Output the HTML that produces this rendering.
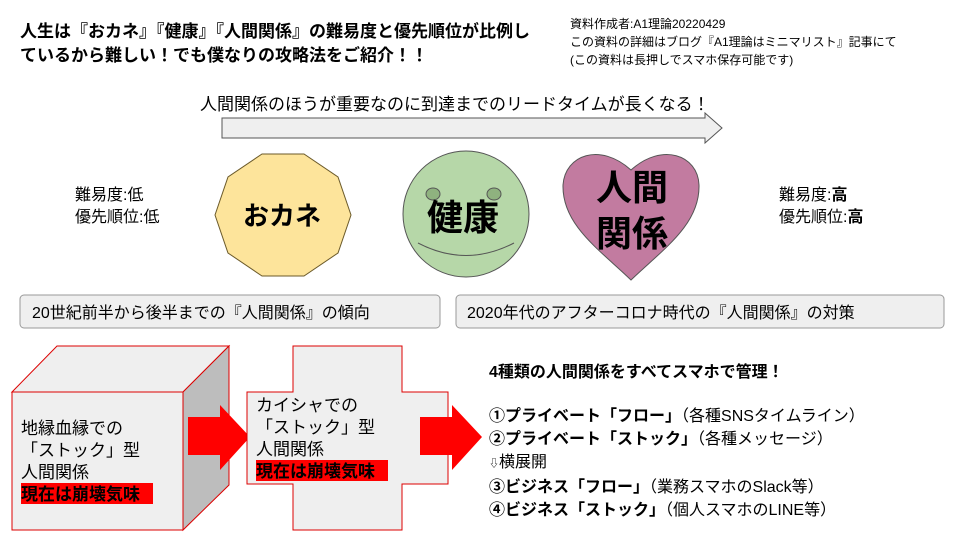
<!DOCTYPE html>
<html><head><meta charset="utf-8"><style>
html,body{margin:0;padding:0;background:#fff}
body{width:960px;height:540px;overflow:hidden;position:relative;font-family:"Liberation Sans","Noto Sans CJK JP",sans-serif;color:#000}
.t{position:absolute;white-space:nowrap}
</style></head><body>
<svg width="960" height="540" style="position:absolute;left:0;top:0">
<polygon points="222,118 705,118 705,113 722,128 705,143 705,138 222,138" fill="#efefef" stroke="#555" stroke-width="1"/>
<polygon points="262,154 304,154 338,177 351,215 338,253 304,276 262,276 228,253 215,215 228,177" fill="#fde49b" stroke="#6b5a2a" stroke-width="1"/>
<circle cx="466" cy="214" r="63" fill="#b6d7a8" stroke="#555"/>
<ellipse cx="433" cy="194" rx="7" ry="6" fill="#8fb27f" stroke="#555"/>
<ellipse cx="494" cy="194" rx="7" ry="6" fill="#8fb27f" stroke="#555"/>
<path d="M418 243 Q466 268 514 243" fill="none" stroke="#555"/>
<path d="M631 280 C600 250 562 225 563 185 C565 155 600 142 631 170 C662 142 698 155 699 185 C700 225 662 250 631 280 Z" fill="#c27ba0" stroke="#555"/>
<rect x="20" y="295" width="420" height="33" rx="4" fill="#efefef" stroke="#999"/>
<rect x="456" y="295" width="488" height="33" rx="4" fill="#efefef" stroke="#999"/>
<polygon points="12,392 57,346 229,346 183,392" fill="#efefef" stroke="#d00"/>
<polygon points="183,392 229,346 229,485 183,530" fill="#bdbdbd" stroke="#d00"/>
<rect x="12" y="392" width="171" height="138" fill="#efefef" stroke="#d00"/>
<polygon points="188,417 220,417 220,405 250,437 220,470 220,455 188,455" fill="#f00"/>
<polygon points="293,346 402,346 402,392 448,392 448,484 402,484 402,530 293,530 293,484 247,484 247,392 293,392" fill="#efefef" stroke="#d00"/>
<polygon points="420,417 452,417 452,405 482,437 452,470 452,455 420,455" fill="#f00"/>
<rect x="21" y="483" width="132" height="21" fill="#f00"/>
<rect x="256" y="460" width="132" height="21" fill="#f00"/>
</svg>
<div class="t" style="left:20px;top:20px;font-size:17px;font-weight:bold;line-height:24px">人生は『おカネ』『健康』『人間関係』の難易度と優先順位が比例し<br>ているから難しい！でも僕なりの攻略法をご紹介！！</div>
<div class="t" style="left:570px;top:15px;font-size:12px;line-height:18px">資料作成者:A1理論20220429<br>この資料の詳細はブログ『A1理論はミニマリスト』記事にて<br>(この資料は長押しでスマホ保存可能です)</div>
<div class="t" style="left:200px;top:90px;font-size:17px">人間関係のほうが重要なのに到達までのリードタイムが長くなる！</div>
<div class="t" style="left:75px;top:185px;font-size:16px;line-height:22px">難易度:低<br>優先順位:低</div>
<div class="t" style="left:779px;top:185px;font-size:16px;line-height:22px">難易度:<b>高</b><br>優先順位:<b>高</b></div>
<div class="t" style="left:243px;top:196px;font-size:26px;font-weight:bold">おカネ</div>
<div class="t" style="left:427px;top:189px;font-size:36px;font-weight:bold">健康</div>
<div class="t" style="left:596px;top:165px;font-size:36px;font-weight:bold;line-height:46px">人間<br>関係</div>
<div class="t" style="left:32px;top:299px;font-size:16px">20世紀前半から後半までの『人間関係』の傾向</div>
<div class="t" style="left:467px;top:299px;font-size:16px">2020年代のアフターコロナ時代の『人間関係』の対策</div>
<div class="t" style="left:21px;top:418px;font-size:17px;line-height:22px">地縁血縁での<br>「ストック」型<br>人間関係<br><b>現在は崩壊気味</b></div>
<div class="t" style="left:256px;top:395px;font-size:17px;line-height:22px">カイシャでの<br>「ストック」型<br>人間関係<br><b>現在は崩壊気味</b></div>
<div class="t" style="left:489px;top:358px;font-size:16px;font-weight:bold">4種類の人間関係をすべてスマホで管理！</div>
<div class="t" style="left:489px;top:405px;font-size:16px;line-height:23px"><b>①プライベート「フロー」</b>（各種SNSタイムライン）<br><b>②プライベート「ストック」</b>（各種メッセージ）<br><span style="font-size:10px">⇩</span>横展開<br><b>③ビジネス「フロー」</b>（業務スマホのSlack等）<br><b>④ビジネス「ストック」</b>（個人スマホのLINE等）</div>
</body></html>
